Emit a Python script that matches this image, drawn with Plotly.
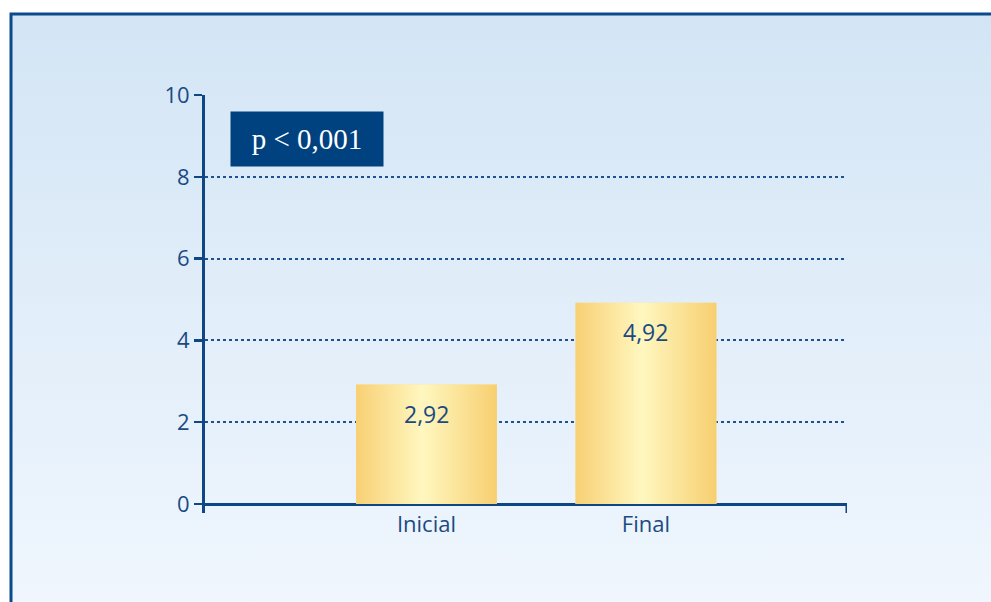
import plotly.graph_objects as go

# ---- data ----
categories = ["Inicial", "Final"]
values = [2.92, 4.92]
value_labels = ["2,92", "4,92"]
y_ticks = [0, 2, 4, 6, 8, 10]
p_text = "p < 0,001"

# ---- layout constants (page pixels) ----
W, H = 991, 602
DARK = "#0e4784"
TXT = "#1b4a82"
BAR_W = 0.642
X_RANGE = [-1.009, 1.916]
Y_RANGE = [-0.22, 10]


def px(x):
    return x / W


def py(y):
    return 1 - y / H


fig = go.Figure()

# background panel with vertical gradient + frame (on full-page axes x/y)
fig.add_trace(go.Scatter(
    x=[px(11), 1.05, 1.05, px(11), px(11)],
    y=[-0.05, -0.05, py(14), py(14), -0.05],
    mode="lines", fill="toself",
    line=dict(color="#0b4a8c", width=3),
    fillgradient=dict(type="vertical",
                      colorscale=[[0, "#f1f7fe"], [1, "#d3e5f5"]]),
    hoverinfo="skip", showlegend=False, xaxis="x", yaxis="y",
))

# bars
for i, (c, v) in enumerate(zip(categories, values)):
    fig.add_trace(go.Bar(
        x=[i], y=[v], width=BAR_W, marker=dict(color="#fce39e", line=dict(width=0)),
        xaxis="x2", yaxis="y2", showlegend=False, hoverinfo="skip", name=c,
    ))
    x0, x1 = i - BAR_W / 2, i + BAR_W / 2
    fig.add_trace(go.Scatter(
        x=[x0, x1, x1, x0, x0], y=[0, 0, v, v, 0],
        mode="lines", fill="toself", line=dict(width=0, color="rgba(0,0,0,0)"),
        fillgradient=dict(type="horizontal",
                          colorscale=[[0, "#f8d074"], [0.47, "#fff7c0"], [1, "#f7cf70"]]),
        xaxis="x2", yaxis="y2", showlegend=False, hoverinfo="skip",
    ))

# value labels inside bars
for i, (v, t) in enumerate(zip(values, value_labels)):
    fig.add_annotation(x=i, y=v, xref="x2", yref="y2", text=t, showarrow=False,
                       yanchor="middle", yshift=-29,
                       font=dict(family="Open Sans", size=23, color=TXT))

# p-value box
fig.add_annotation(x=px(230), y=py(111), xref="paper", yref="paper",
                   xanchor="left", yanchor="top", text=p_text, showarrow=False,
                   width=152, height=54, borderpad=0, bgcolor="#00427f",
                   font=dict(family="Liberation Serif", size=29, color="white"))

# right end tick of the x axis
fig.add_shape(type="line", xref="x2", yref="y2", x0=X_RANGE[1], x1=X_RANGE[1],
              y0=0, y1=Y_RANGE[0], line=dict(color=DARK, width=3))

fig.update_layout(
    width=W, height=H, autosize=False,
    margin=dict(l=0, r=0, t=0, b=0, pad=0, autoexpand=False),
    paper_bgcolor="white", plot_bgcolor="rgba(0,0,0,0)",
    xaxis=dict(domain=[0, 1], range=[0, 1], visible=False, fixedrange=True,
               automargin=False),
    yaxis=dict(domain=[0, 1], range=[0, 1], visible=False, fixedrange=True,
               automargin=False),
    xaxis2=dict(domain=[px(205), px(847)], range=X_RANGE, anchor="y2",
                tickmode="array", tickvals=list(range(len(categories))),
                ticktext=categories, showgrid=False, zeroline=False,
                showline=False, ticks="", automargin=False,
                ticklabelstandoff=-4,
                tickfont=dict(family="Open Sans", size=22, color=TXT)),
    yaxis2=dict(domain=[py(513), py(95)], range=Y_RANGE, anchor="x2",
                tickmode="array", tickvals=y_ticks, automargin=False,
                showline=True, linecolor=DARK, linewidth=3,
                ticks="outside", ticklen=8, tickwidth=2.5, tickcolor=DARK,
                showgrid=True, gridcolor="#1f5090", gridwidth=2, griddash="dot",
                zeroline=True, zerolinecolor=DARK, zerolinewidth=3,
                tickfont=dict(family="Open Sans", size=22, color=TXT)),
    barmode="overlay",
)

fig.write_html(
    "out.html",
    config={"displayModeBar": False, "staticPlot": True},
    post_script="document.body.style.margin='0';document.body.style.overflow='hidden';",
)
